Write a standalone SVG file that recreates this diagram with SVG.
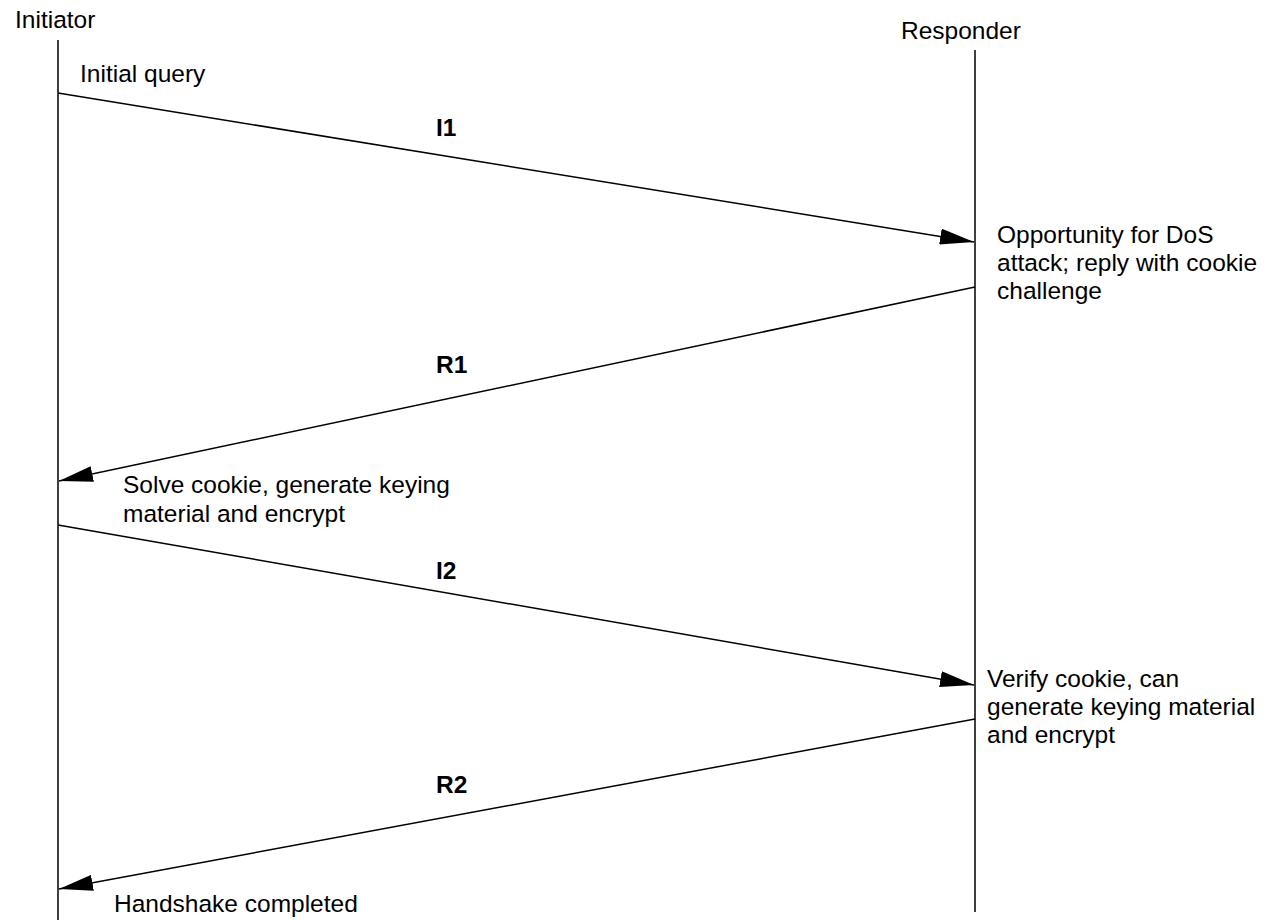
<svg xmlns="http://www.w3.org/2000/svg" width="1270" height="920" viewBox="0 0 1270 920">
<style>
text{font-family:"Liberation Sans",Arial,sans-serif;font-size:24.5px;fill:#000}
.b{font-weight:bold}
.l{stroke:#000;stroke-width:1.5;fill:none}
</style>
<defs>
<marker id="ah" markerUnits="userSpaceOnUse" markerWidth="36" markerHeight="16" refX="34" refY="8" orient="auto" viewBox="0 0 36 16">
<path d="M0,0 L34,8 L0,16 Z" fill="#000"/>
</marker>
</defs>
<rect width="1270" height="920" fill="#fff"/>
<g id="initiator">
<text x="15" y="28">Initiator</text>
<line class="l" x1="58" y1="40" x2="58" y2="920"/>
</g>
<g id="responder">
<text x="901" y="39">Responder</text>
<line class="l" x1="975" y1="50" x2="975" y2="912"/>
</g>
<g id="connectors">
<line class="l" x1="58" y1="93" x2="974" y2="242" marker-end="url(#ah)"/>
<line class="l" x1="975" y1="287" x2="59" y2="481" marker-end="url(#ah)"/>
<line class="l" x1="58" y1="525" x2="974" y2="685" marker-end="url(#ah)"/>
<line class="l" x1="975" y1="719" x2="59" y2="889" marker-end="url(#ah)"/>
</g>
<g id="labels">
<text x="80" y="82">Initial query</text>
<text class="b" x="436" y="136">I1</text>
<text x="997" y="243">Opportunity for DoS</text>
<text x="997" y="271">attack; reply with cookie</text>
<text x="997" y="299">challenge</text>
<text class="b" x="436" y="373">R1</text>
<text x="123" y="493">Solve cookie, generate keying</text>
<text x="123" y="522">material and encrypt</text>
<text class="b" x="436" y="579">I2</text>
<text x="987" y="687">Verify cookie, can</text>
<text x="987" y="715">generate keying material</text>
<text x="987" y="743">and encrypt</text>
<text class="b" x="436" y="793">R2</text>
<text x="114" y="912">Handshake completed</text>
</g>
</svg>
